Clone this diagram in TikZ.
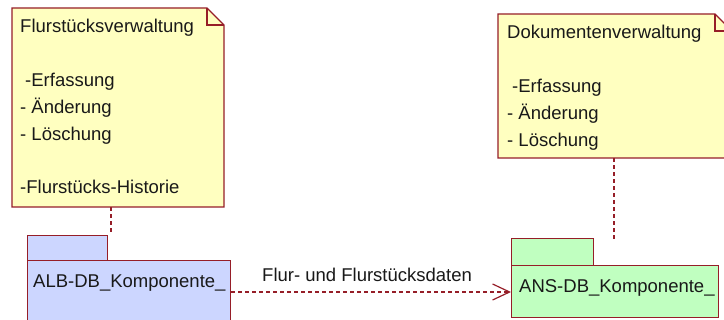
\documentclass[tikz,border=0pt]{standalone}
\usepackage{fontspec}
\setmainfont{Liberation Sans}
\usetikzlibrary{arrows.meta}
\definecolor{umlred}{RGB}{150,30,40}
\definecolor{notefill}{RGB}{255,255,192}
\definecolor{pkgblue}{RGB}{204,214,255}
\definecolor{pkggreen}{RGB}{192,255,192}
\tikzset{
  outline/.style={draw=umlred, line width=1.2pt, line join=miter},
  notetext/.style={anchor=base west, inner sep=0pt, font=\fontsize{18.5}{22}\selectfont, text=black!90},
  dep/.style={draw=umlred, line width=1.2pt, dash pattern=on 4pt off 3pt},
}
\begin{document}
\begin{tikzpicture}[x=1pt,y=-1pt]
\useasboundingbox (0,0) rectangle (724,320);
\clip (0,0) rectangle (724,320);
\fill[white] (0,0) rectangle (724,320);
% left note
\draw[outline, fill=notefill] (12,8) -- (207,8) -- (224,25) -- (224,207) -- (12,207) -- cycle;
\draw[outline] (207,8) -- (207,25) -- (224,25);
\node[inner sep=0pt, minimum width=212pt, minimum height=199pt, anchor=north west] (noteL) at (12,8) {};
\node[notetext] (tL1) at (20,33) {Flurstücksverwaltung};
\node[notetext] (tL2) at (25,87) {-Erfassung};
\node[notetext] (tL3) at (20,114) {- Änderung};
\node[notetext] (tL4) at (20,141) {- Löschung};
\node[notetext] (tL5) at (20,194) {-Flurstücks-Historie};
% right note
\draw[outline, fill=notefill] (498,14) -- (715,14) -- (732,31) -- (732,158) -- (498,158) -- cycle;
\draw[outline] (715,14) -- (715,31) -- (732,31);
\node[inner sep=0pt, minimum width=234pt, minimum height=144pt, anchor=north west] (noteR) at (498,14) {};
\node[notetext] (tR1) at (507,39) {Dokumentenverwaltung};
\node[notetext] (tR2) at (512,93) {-Erfassung};
\node[notetext] (tR3) at (507,120) {- Änderung};
\node[notetext] (tR4) at (507,147) {- Löschung};
% left package
\node[outline, fill=pkgblue, inner sep=0pt, minimum width=80pt, minimum height=25pt, anchor=north west] (tabL) at (27,235) {};
\node[outline, fill=pkgblue, inner sep=0pt, minimum width=203pt, minimum height=70pt, anchor=north west] (pkgL) at (27,260) {};
\node[notetext] (pL) at (33,288) {ALB-DB\_Komponente\_};
% right package
\node[outline, fill=pkggreen, inner sep=0pt, minimum width=82pt, minimum height=27pt, anchor=north west] (tabR) at (511,238) {};
\node[outline, fill=pkggreen, inner sep=0pt, minimum width=207pt, minimum height=52pt, anchor=north west] (pkgR) at (511,265) {};
\node[notetext] (pR) at (519,293) {ANS-DB\_Komponente\_};
% note anchors
\coordinate (aL) at (111,235);
\coordinate (aR) at (614,239);
\draw[dep] (noteL.south -| aL) -- (aL);
\draw[dep] (noteR.south -| aR) -- (aR);
% dependency
\draw[dep, -{Straight Barb[length=17pt, width=16pt, line width=1.2pt]}] (pkgL.east |- 0,292) -- (pkgR.west |- 0,292);
\node[notetext] (lbl) at (262,282) {Flur- und Flurstücksdaten};
\end{tikzpicture}
\end{document}
